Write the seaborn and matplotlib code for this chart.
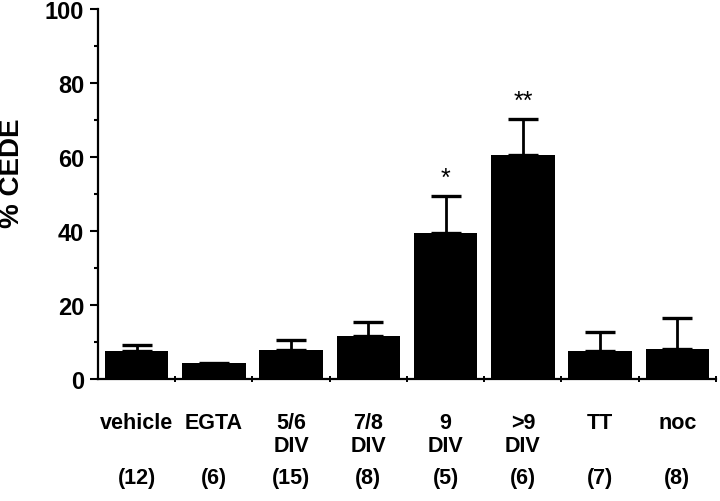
import matplotlib
matplotlib.use("Agg")
import matplotlib.pyplot as plt
import seaborn as sns
import numpy as np
import pandas as pd
from matplotlib.ticker import MultipleLocator, FixedLocator

categories = ["vehicle", "EGTA", "5/6\nDIV", "7/8\nDIV", "9\nDIV", ">9\nDIV", "TT", "noc"]
counts = ["(12)", "(6)", "(15)", "(8)", "(5)", "(6)", "(7)", "(8)"]
means = [7.6, 4.3, 7.9, 11.7, 39.5, 60.5, 7.6, 8.1]
errors = [1.6, np.nan, 2.7, 3.8, 10.0, 9.8, 5.2, 8.4]
stars = ["", "", "", "", "*", "**", "", ""]

sns.set_theme(style="ticks")
plt.rcParams["font.family"] = ["Liberation Sans", "DejaVu Sans"]
plt.rcParams["font.weight"] = "bold"
for k in ["text.color", "axes.labelcolor", "xtick.color", "ytick.color", "axes.edgecolor"]:
    plt.rcParams[k] = "black"

df = pd.DataFrame({"cat": categories, "val": means})

fig = plt.figure(figsize=(7.2, 5.02), dpi=100)
ax = fig.add_axes([98 / 720, 122 / 502, 618 / 720, 370 / 502])

sns.barplot(data=df, x="cat", y="val", color="black", width=0.82,
            saturation=1, edgecolor="black", linewidth=0, ax=ax, errorbar=None)

pos = np.arange(len(categories))
err_arr = np.array(errors)
ax.errorbar(pos, means, yerr=[np.zeros(len(pos)), err_arr], fmt="none",
            ecolor="black", elinewidth=2.0, capsize=11, capthick=2.4, zorder=1)

for i, s in enumerate(stars):
    if s:
        top = means[i] + (errors[i] if not np.isnan(errors[i]) else 0)
        ax.text(pos[i], top + 3.0, s, ha="center", va="baseline",
                fontsize=18, fontweight="normal", color="black")

for i, c in enumerate(counts):
    ax.text(pos[i], -26.5, c, ha="center", va="center", fontsize=15.5,
            fontweight="bold", color="black")

ax.set_xlim(-0.5, 7.5)
ax.set_ylim(0, 100)
ax.yaxis.set_major_locator(MultipleLocator(20))
ax.yaxis.set_minor_locator(MultipleLocator(10))
ax.xaxis.set_minor_locator(FixedLocator(np.arange(0.5, 8.0, 1.0)))

ax.set_xticks(pos)
ax.set_xticklabels(categories, fontsize=15.5, fontweight="bold", linespacing=1.1)
ax.tick_params(axis="x", which="major", length=0, pad=24)
ax.tick_params(axis="x", which="minor", direction="inout", length=5, width=1.4)
ax.tick_params(axis="y", which="major", direction="out", length=6, width=1.5,
               labelsize=17, pad=4)
ax.tick_params(axis="y", which="minor", direction="out", length=3, width=1.5)
for lab in ax.get_yticklabels():
    lab.set_fontweight("bold")

ax.set_xlabel("")
ax.set_ylabel("% CEDE", fontsize=20, fontweight="bold")
ax.yaxis.set_label_coords(-0.118, 0.56)

sns.despine(ax=ax)
for sp in ["left", "bottom"]:
    ax.spines[sp].set_linewidth(1.6)
    ax.spines[sp].set_color("black")

fig.savefig("out.png", dpi=100, facecolor="white")
